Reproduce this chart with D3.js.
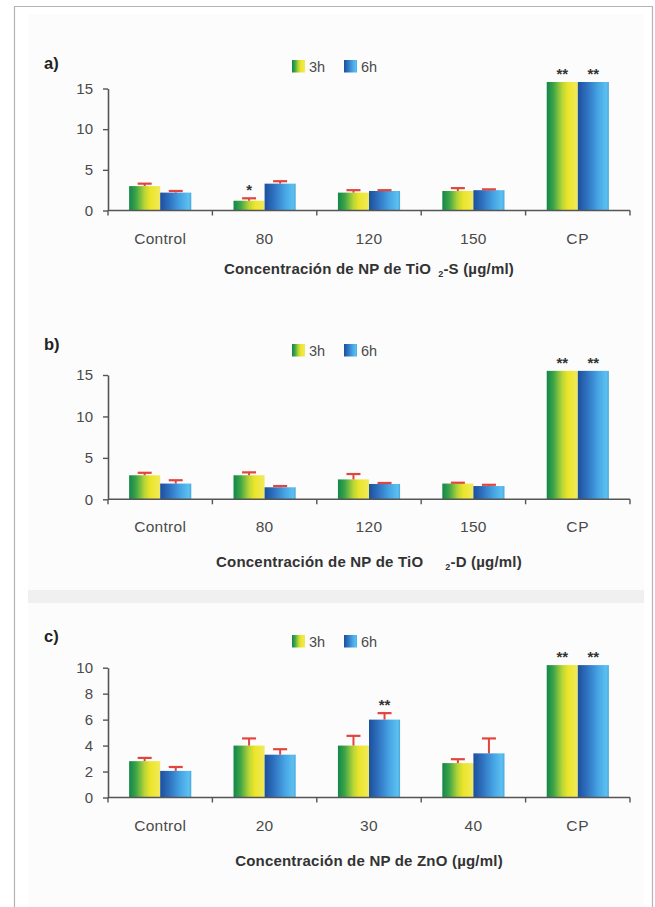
<!DOCTYPE html>
<html>
<head>
<meta charset="utf-8">
<script src="https://cdn.jsdelivr.net/npm/d3@7/dist/d3.min.js"></script>
<style>
  html, body { margin: 0; padding: 0; background: #fff; }
  svg { display: block; }
  text { font-family: "Liberation Sans", Arial, sans-serif; }
</style>
</head>
<body>
<svg id="chart" width="655" height="907"></svg>
<script>
// ---------- DATA ----------
const series = ["3h", "6h"];

const categoriesA = ["Control", "80", "120", "150", "CP"];
const a3h      = [3.0, 1.2, 2.2, 2.4, 15.8];
const a3hErr   = [0.3, 0.3, 0.3, 0.35, 0];
const a6h      = [2.2, 3.3, 2.4, 2.5, 15.8];
const a6hErr   = [0.2, 0.3, 0.1, 0.1, 0];
const aSig3h   = ["", "*", "", "", "**"];
const aSig6h   = ["", "", "", "", "**"];
const aTicks   = [0, 5, 10, 15];

const categoriesB = ["Control", "80", "120", "150", "CP"];
const b3h      = [2.9, 2.9, 2.4, 1.9, 15.5];
const b3hErr   = [0.3, 0.35, 0.65, 0.1, 0];
const b6h      = [1.9, 1.45, 1.85, 1.6, 15.5];
const b6hErr   = [0.4, 0.15, 0.12, 0.15, 0];
const bSig3h   = ["", "", "", "", "**"];
const bSig6h   = ["", "", "", "", "**"];
const bTicks   = [0, 5, 10, 15];

const categoriesC = ["Control", "20", "30", "40", "CP"];
const c3h      = [2.8, 4.0, 4.0, 2.65, 10.2];
const c3hErr   = [0.25, 0.55, 0.75, 0.3, 0];
const c6h      = [2.05, 3.3, 6.0, 3.4, 10.2];
const c6hErr   = [0.3, 0.42, 0.5, 1.15, 0];
const cSig3h   = ["", "", "", "", "**"];
const cSig6h   = ["", "", "**", "", "**"];
const cTicks   = [0, 2, 4, 6, 8, 10];

// ---------- LAYOUT ----------
const panels = [
  { label: "a)", cats: categoriesA, v: [a3h, a6h], e: [a3hErr, a6hErr], s: [aSig3h, aSig6h], ticks: aTicks,
    yBottom: 210.5, yTop: 88.5, labelY: 69, legendY: 60, catY: 244, titleY: 274,
    title: ["Concentración de NP de TiO", "2", "-S (µg/ml)"], subGap: 7 },
  { label: "b)", cats: categoriesB, v: [b3h, b6h], e: [b3hErr, b6hErr], s: [bSig3h, bSig6h], ticks: bTicks,
    yBottom: 499.3, yTop: 375, labelY: 350, legendY: 344, catY: 532, titleY: 567,
    title: ["Concentración de NP de TiO", "2", "-D (µg/ml)"], subGap: 22 },
  { label: "c)", cats: categoriesC, v: [c3h, c6h], e: [c3hErr, c6hErr], s: [cSig3h, cSig6h], ticks: cTicks,
    yBottom: 797.5, yTop: 667.7, labelY: 642, legendY: 635, catY: 831, titleY: 866,
    title: ["Concentración de NP de ZnO (µg/ml)"], subGap: 0 }
];

const X0 = 108, X1 = 630;
const svg = d3.select("#chart");

// background, frame, separator
svg.append("rect").attr("width", 655).attr("height", 907).attr("fill", "#ffffff");
svg.append("rect").attr("x", 28).attr("y", 14).attr("width", 616).attr("height", 893).attr("fill", "#fcfcfc");
svg.append("rect").attr("x", 28).attr("y", 590).attr("width", 616).attr("height", 13).attr("fill", "#f0f0f0");
svg.append("path").attr("d", "M14.5,907 V6.5 H652.5 V907").attr("fill", "none").attr("stroke", "#b4b4b4").attr("stroke-width", 1.2);

// gradients
const defs = svg.append("defs");
function grad(id, stops) {
  const g = defs.append("linearGradient").attr("id", id).attr("x1", "0").attr("x2", "1").attr("y1", "0").attr("y2", "0");
  stops.forEach(([o, c]) => g.append("stop").attr("offset", o).attr("stop-color", c));
}
grad("g3h", [[0, "#12864a"], [0.22, "#3da548"], [0.5, "#b9d636"], [0.68, "#ece52a"], [1, "#f1ea5c"]]);
grad("g6h", [[0, "#1d4f9c"], [0.3, "#2f72c0"], [0.65, "#46a4e4"], [0.92, "#5cc0f0"], [1, "#4aa6dc"]]);
const fills = ["url(#g3h)", "url(#g6h)"];

const textCol = "#4a4a4a";
const errCol = "#e2453d";

panels.forEach(p => {
  const g = svg.append("g");
  const x = d3.scaleBand().domain(p.cats).range([X0, X1]).paddingInner(0).paddingOuter(0);
  const xs = d3.scaleBand().domain(series).range([0, x.bandwidth()]).paddingInner(0).paddingOuter(0.68);
  const yMax = p.ticks[p.ticks.length - 1];
  const y = d3.scaleLinear().domain([0, yMax]).range([p.yBottom, p.yTop]);

  // bars
  series.forEach((sName, si) => {
    const vals = p.v[si], errs = p.e[si], sigs = p.s[si];
    p.cats.forEach((c, ci) => {
      const bx = x(c) + xs(sName);
      const bw = xs.bandwidth();
      g.append("rect")
        .attr("x", bx).attr("y", y(vals[ci]))
        .attr("width", bw).attr("height", y(0) - y(vals[ci]))
        .attr("fill", fills[si]);
      if (errs[ci] > 0) {
        const cx = bx + bw / 2;
        g.append("line").attr("x1", cx).attr("x2", cx)
          .attr("y1", y(vals[ci])).attr("y2", y(vals[ci] + errs[ci]))
          .attr("stroke", errCol).attr("stroke-width", 2);
        g.append("line").attr("x1", cx - 7).attr("x2", cx + 7)
          .attr("y1", y(vals[ci] + errs[ci])).attr("y2", y(vals[ci] + errs[ci]))
          .attr("stroke", errCol).attr("stroke-width", 2.2);
      }
      if (sigs[ci]) {
        g.append("text").attr("x", bx + bw / 2).attr("y", y(vals[ci] + errs[ci]) - 3)
          .attr("text-anchor", "middle").attr("font-size", 15).attr("font-weight", "bold")
          .attr("fill", "#333").text(sigs[ci]);
      }
    });
  });

  // y axis
  const yAxis = d3.axisLeft(y).tickValues(p.ticks).tickSize(5).tickSizeOuter(0).tickPadding(10)
    .tickFormat(d3.format("d"));
  const ya = g.append("g").attr("transform", `translate(${X0},0)`).call(yAxis);
  ya.select(".domain").attr("stroke", "#555").attr("stroke-width", 1.6);
  ya.selectAll(".tick line").attr("stroke", "#555").attr("stroke-width", 1.4);
  ya.selectAll(".tick text").attr("fill", textCol).attr("font-size", 15)
    .attr("font-family", "Liberation Sans, Arial, sans-serif");

  // x axis line with boundary ticks
  g.append("line").attr("x1", X0).attr("x2", X1).attr("y1", y(0)).attr("y2", y(0))
    .attr("stroke", "#555").attr("stroke-width", 1.6);
  const bounds = p.cats.map(c => x(c)).concat([x.range()[1]]);
  g.selectAll(".bt").data(bounds).join("line")
    .attr("x1", d => d).attr("x2", d => d).attr("y1", y(0)).attr("y2", y(0) + 5)
    .attr("stroke", "#555").attr("stroke-width", 1.4);

  // category labels
  g.selectAll(".cl").data(p.cats).join("text")
    .attr("x", d => x(d) + x.bandwidth() / 2).attr("y", p.catY)
    .attr("text-anchor", "middle").attr("font-size", 15.5).attr("fill", textCol)
    .attr("letter-spacing", d => d === "CP" ? 0.8 : 0.3)
    .text(d => d);

  // panel label
  g.append("text").attr("x", 44).attr("y", p.labelY).attr("font-size", 16.5).attr("font-weight", "bold")
    .attr("fill", "#222").text(p.label);

  // legend
  const lx = [292, 344];
  series.forEach((sName, si) => {
    g.append("rect").attr("x", lx[si]).attr("y", p.legendY).attr("width", 13).attr("height", 12.5)
      .attr("fill", fills[si]);
    g.append("text").attr("x", lx[si] + 17).attr("y", p.legendY + 11.5).attr("font-size", 14.5)
      .attr("fill", textCol).text(sName);
  });

  // x title
  const t = g.append("text").attr("x", (X0 + X1) / 2).attr("y", p.titleY).attr("text-anchor", "middle")
    .attr("font-size", 15).attr("font-weight", "bold").attr("fill", "#333").attr("letter-spacing", 0.2);
  t.append("tspan").text(p.title[0]);
  if (p.title.length > 1) {
    t.append("tspan").attr("dx", p.subGap).attr("dy", 3).attr("font-size", 9).text(p.title[1]);
    t.append("tspan").attr("dy", -3).text(p.title[2]);
  }
});
</script>
</body>
</html>
